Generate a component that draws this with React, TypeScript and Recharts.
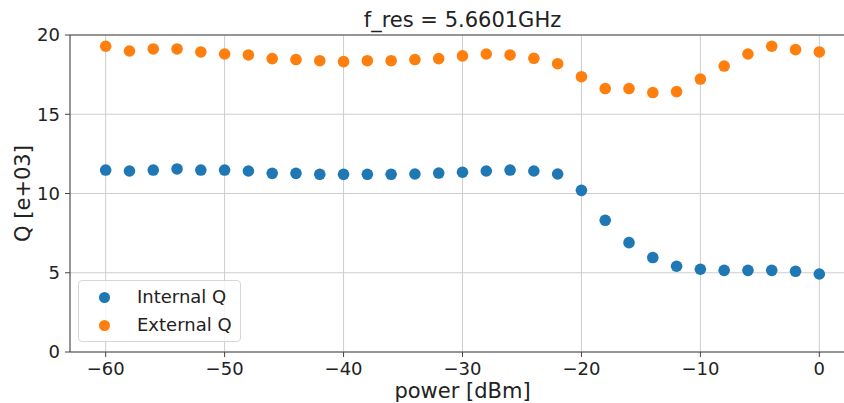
import {
	ScatterChart,
	Scatter,
	XAxis,
	YAxis,
	CartesianGrid,
	Legend,
	ReferenceLine,
} from "recharts";

// power sweep (dBm)
const powers = [
	-60, -58, -56, -54, -52, -50, -48, -46, -44, -42, -40, -38, -36, -34, -32,
	-30, -28, -26, -24, -22, -20, -18, -16, -14, -12, -10, -8, -6, -4, -2, 0,
];

// Q values in units of 1e3
const internalQ = [
	11.48, 11.42, 11.48, 11.55, 11.48, 11.48, 11.42, 11.27, 11.27, 11.21, 11.21,
	11.21, 11.21, 11.23, 11.29, 11.34, 11.42, 11.48, 11.42, 11.23, 10.2, 8.31,
	6.9, 5.96, 5.41, 5.22, 5.15, 5.15, 5.15, 5.09, 4.92,
];

const externalQ = [
	19.29, 18.99, 19.12, 19.12, 18.93, 18.8, 18.74, 18.51, 18.45, 18.38, 18.32,
	18.38, 18.38, 18.45, 18.51, 18.68, 18.8, 18.74, 18.53, 18.19, 17.37, 16.62,
	16.62, 16.37, 16.43, 17.22, 18.04, 18.8, 19.29, 19.08, 18.93,
];

const seriesNames = ["Internal Q", "External Q"];
const xTicks = [-60, -50, -40, -30, -20, -10, 0];
const yTicks = [0, 5, 10, 15, 20];

const BLUE = "#1f77b4";
const ORANGE = "#ff7f0e";
const FONT = "'DejaVu Sans', sans-serif";
const DOT_R = 5.8;

const internalData = powers.map((p, i) => ({ power: p, q: internalQ[i] }));
const externalData = powers.map((p, i) => ({ power: p, q: externalQ[i] }));

const makeDot =
	(color: string) =>
	(props: { cx?: number; cy?: number }) => (
		<circle cx={props.cx} cy={props.cy} r={DOT_R} fill={color} />
	);

const renderLegend = (props: {
	payload?: ReadonlyArray<{ color?: string; value?: string }>;
}) => {
	const { payload } = props;
	if (!payload) return null;
	// keep the plotting order, not alphabetical
	const items = seriesNames
		.map((name) => payload.find((p) => p.value === name))
		.filter(Boolean) as { color?: string; value?: string }[];
	return (
		<div
			style={{
				width: 161,
				height: 60,
				border: "1px solid #d6d6d6",
				borderRadius: 4,
				background: "rgba(255,255,255,0.8)",
				position: "relative",
				fontFamily: FONT,
				fontSize: 18,
				color: "#222",
			}}
		>
			{items.map((entry, index) => (
				<div
					// biome-ignore lint/suspicious/noArrayIndexKey: fixed order
					key={`leg-${index}`}
					style={{
						position: "absolute",
						left: 0,
						top: 5 + index * 28,
						height: 22,
						display: "flex",
						alignItems: "center",
					}}
				>
					<span
						style={{
							display: "inline-block",
							width: 11,
							height: 11,
							borderRadius: "50%",
							background: entry.color ?? "#888",
							marginLeft: 20,
							marginRight: 27,
						}}
					/>
					<span style={{ lineHeight: "22px" }}>{entry.value ?? ""}</span>
				</div>
			))}
		</div>
	);
};

export default function App() {
	return (
		<div
			style={{
				position: "absolute",
				left: 0,
				top: 0,
				width: 844,
				height: 403,
				overflow: "hidden",
				background: "#fff",
			}}
		>
			<ScatterChart
				width={860}
				height={403}
				margin={{ top: 35, right: 5, bottom: 0, left: 10 }}
				style={{ fontFamily: FONT }}
			>
				<CartesianGrid stroke="#cdcdcd" strokeWidth={1} />
				<XAxis
					type="number"
					dataKey="power"
					domain={[-63, 3]}
					ticks={xTicks}
					allowDataOverflow
					height={51}
					tickSize={5}
					tickMargin={5}
					stroke="#444"
					tick={{ fill: "#222", fontSize: 18, fontFamily: FONT }}
					tickFormatter={(v: number) =>
						v < 0 ? `\u2212${Math.abs(v)}` : `${v}`
					}
					label={{
						value: "power [dBm]",
						position: "insideBottom",
						offset: 5,
						style: { fill: "#222", fontSize: 21, fontFamily: FONT },
					}}
				/>
				<YAxis
					type="number"
					dataKey="q"
					domain={[0, 20]}
					ticks={yTicks}
					allowDataOverflow
					width={60}
					tickSize={5}
					tickMargin={5}
					stroke="#444"
					tick={{ fill: "#222", fontSize: 18, fontFamily: FONT }}
					label={{
						value: "Q [e+03]",
						angle: -90,
						position: "insideLeft",
						offset: 13,
						style: {
							fill: "#222",
							fontSize: 21,
							fontFamily: FONT,
							textAnchor: "middle",
						},
					}}
				/>
				<ReferenceLine
					y={20}
					stroke="#444"
					label={{
						value: "f_res = 5.6601GHz",
						position: "top",
						offset: 8,
						style: { fill: "#222", fontSize: 21, fontFamily: FONT },
					}}
				/>
				<Legend
					content={renderLegend}
					layout="vertical"
					align="center"
					verticalAlign="middle"
					wrapperStyle={{ left: 78, top: 280, width: 163, height: 62 }}
				/>
				<Scatter
					name="Internal Q"
					data={internalData}
					fill={BLUE}
					shape={makeDot(BLUE)}
					isAnimationActive={false}
				/>
				<Scatter
					name="External Q"
					data={externalData}
					fill={ORANGE}
					shape={makeDot(ORANGE)}
					isAnimationActive={false}
				/>
			</ScatterChart>
		</div>
	);
}
